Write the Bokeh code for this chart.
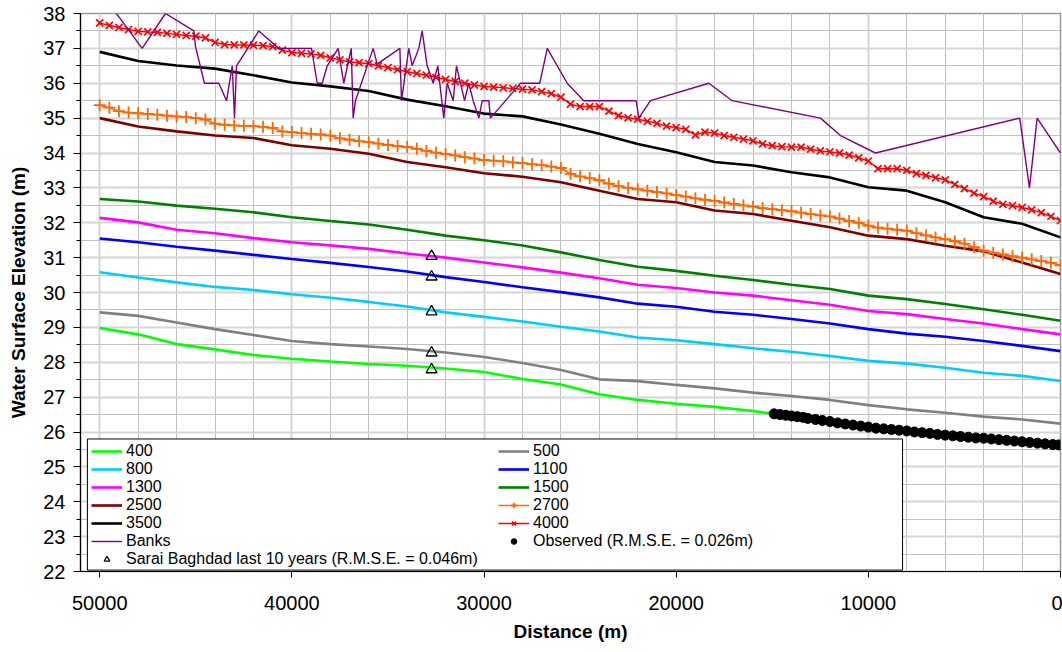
from bokeh.plotting import figure
from bokeh.models import (Range1d, SingleIntervalTicker, Legend, LegendItem,
                          BoxAnnotation, NumeralTickFormatter)
from bokeh.embed import file_html
from bokeh.resources import INLINE

# ---------------- data ----------------
dist_lines = [50000, 48000, 46000, 44000, 42000, 40000, 38000, 36000, 34000, 32000,
              30000, 28000, 26000, 24000, 22000, 20000, 18000, 16000, 14000, 12000,
              10000, 8000, 6000, 4000, 2000, 0]

q400 = [28.98, 28.80, 28.52, 28.37, 28.21, 28.10, 28.02, 27.95, 27.90, 27.82, 27.72, 27.52,
        27.36, 27.08, 26.92, 26.81, 26.72, 26.60, 26.46, 26.33, 26.15, 26.03, 25.93, 25.83,
        25.73, 25.62]
q500 = [29.43, 29.33, 29.14, 28.95, 28.78, 28.61, 28.52, 28.45, 28.38, 28.28, 28.15, 27.98,
        27.78, 27.51, 27.46, 27.35, 27.25, 27.13, 27.03, 26.92, 26.77, 26.65, 26.55, 26.44,
        26.36, 26.24]
q800 = [30.58, 30.43, 30.29, 30.16, 30.07, 29.95, 29.85, 29.73, 29.60, 29.43, 29.30, 29.17,
        29.02, 28.88, 28.71, 28.63, 28.52, 28.40, 28.30, 28.18, 28.04, 27.96, 27.84, 27.70,
        27.61, 27.46]
q1100 = [31.55, 31.44, 31.31, 31.20, 31.08, 30.96, 30.85, 30.73, 30.60, 30.44, 30.30, 30.15,
         30.01, 29.86, 29.68, 29.59, 29.45, 29.36, 29.24, 29.11, 28.95, 28.82, 28.73, 28.61,
         28.47, 28.32]
q1300 = [32.14, 32.01, 31.80, 31.70, 31.56, 31.44, 31.35, 31.25, 31.12, 31.00, 30.86, 30.72,
         30.57, 30.41, 30.22, 30.13, 30.00, 29.91, 29.78, 29.65, 29.47, 29.38, 29.24, 29.11,
         28.95, 28.80]
q1500 = [32.68, 32.61, 32.49, 32.40, 32.30, 32.16, 32.05, 31.95, 31.80, 31.63, 31.50, 31.35,
         31.15, 30.93, 30.74, 30.62, 30.48, 30.36, 30.22, 30.10, 29.91, 29.81, 29.67, 29.52,
         29.36, 29.19]
q2500 = [35.00, 34.76, 34.62, 34.50, 34.43, 34.22, 34.12, 33.98, 33.74, 33.59, 33.42, 33.32,
         33.16, 32.92, 32.68, 32.59, 32.35, 32.25, 32.06, 31.87, 31.63, 31.53, 31.34, 31.18,
         30.86, 30.53]
q3500 = [36.90, 36.64, 36.51, 36.42, 36.23, 36.02, 35.91, 35.78, 35.53, 35.34, 35.13, 35.05,
         34.82, 34.55, 34.26, 34.02, 33.74, 33.64, 33.45, 33.30, 33.02, 32.92, 32.59, 32.16,
         31.97, 31.58]

dist_marks = [50000, 49500, 49000, 48500, 48000, 47500, 47000, 46500, 46000, 45500,
              45000, 44500, 44000, 43500, 43000, 42500, 42000, 41500, 41000, 40500,
              40000, 39500, 39000, 38500, 38000, 37500, 37000, 36500, 36000, 35500,
              35000, 34500, 34000, 33500, 33000, 32500, 32000, 31500, 31000, 30500,
              30000, 29500, 29000, 28500, 28000, 27500, 27000, 26500, 26000, 25500,
              25000, 24500, 24000, 23500, 23000, 22500, 22000, 21500, 21000, 20500,
              20000, 19500, 19000, 18500, 18000, 17500, 17000, 16500, 16000, 15500,
              15000, 14500, 14000, 13500, 13000, 12500, 12000, 11500, 11000, 10500,
              10000, 9500, 9000, 8500, 8000, 7500, 7000, 6500, 6000, 5500,
              5000, 4500, 4000, 3500, 3000, 2500, 2000, 1500, 1000, 500, 0]
q2700 = [35.37, 35.30, 35.20, 35.16, 35.14, 35.12, 35.10, 35.07, 35.05, 35.03,
         35.00, 34.96, 34.84, 34.81, 34.79, 34.78, 34.77, 34.75, 34.72, 34.62,
         34.60, 34.57, 34.55, 34.53, 34.50, 34.42, 34.38, 34.34, 34.31, 34.27,
         34.23, 34.20, 34.17, 34.12, 34.06, 34.01, 33.97, 33.93, 33.88, 33.84,
         33.80, 33.78, 33.76, 33.73, 33.71, 33.68, 33.65, 33.61, 33.57, 33.40,
         33.33, 33.28, 33.22, 33.12, 33.05, 33.00, 32.96, 32.92, 32.88, 32.84,
         32.79, 32.75, 32.70, 32.66, 32.63, 32.58, 32.54, 32.50, 32.46, 32.42,
         32.39, 32.36, 32.33, 32.29, 32.25, 32.21, 32.18, 32.12, 32.05, 32.00,
         31.92, 31.86, 31.83, 31.80, 31.77, 31.70, 31.64, 31.58, 31.53, 31.47,
         31.40, 31.30, 31.20, 31.14, 31.09, 31.04, 31.00, 30.95, 30.90, 30.85, 30.78]
q4000 = [37.73, 37.66, 37.60, 37.54, 37.49, 37.47, 37.46, 37.43, 37.40, 37.37,
         37.35, 37.30, 37.17, 37.11, 37.10, 37.10, 37.09, 37.08, 37.05, 36.95,
         36.88, 36.86, 36.84, 36.80, 36.73, 36.67, 36.61, 36.59, 36.56, 36.50,
         36.45, 36.39, 36.33, 36.28, 36.23, 36.17, 36.11, 36.05, 36.00, 35.95,
         35.91, 35.89, 35.87, 35.85, 35.83, 35.81, 35.76, 35.70, 35.60, 35.40,
         35.33, 35.33, 35.33, 35.20, 35.07, 35.01, 34.97, 34.91, 34.85, 34.77,
         34.73, 34.68, 34.52, 34.60, 34.57, 34.50, 34.45, 34.40, 34.35, 34.26,
         34.21, 34.18, 34.17, 34.17, 34.11, 34.06, 34.03, 34.00, 33.94, 33.86,
         33.77, 33.55, 33.55, 33.55, 33.50, 33.41, 33.36, 33.29, 33.23, 33.10,
         32.98, 32.85, 32.75, 32.62, 32.53, 32.49, 32.44, 32.37, 32.29, 32.18, 32.06]

bank_d = [50000, 47790, 46580, 45100, 45015, 44550, 43800, 43400, 43105, 42985,
          42880, 41720, 40680, 38980, 38680, 38420, 38160, 37590, 37300, 36910,
          36810, 36690, 35770, 35560, 34380, 34295, 33915, 33740, 33395, 33220,
          32960, 32645, 32405, 32095, 31915, 31605, 31435, 31015, 30795, 30565,
          30270, 30095, 29750, 29665, 28100, 27100, 26710, 25670, 24810, 22080,
          21945, 21340, 18300, 17085, 12490, 11450, 9630, 2120, 1615, 1215, 0]
bank_v = [38.65, 37.00, 38.00, 37.50, 37.05, 36.00, 36.00, 35.50, 36.50, 35.00,
          36.50, 37.50, 37.00, 37.00, 36.00, 36.00, 36.50, 37.00, 36.00, 37.00,
          35.00, 35.50, 37.00, 36.55, 37.00, 35.50, 37.00, 36.50, 37.00, 37.50,
          36.50, 36.00, 36.50, 35.00, 36.00, 35.50, 36.50, 35.50, 36.00, 35.50,
          35.00, 35.50, 35.50, 35.00, 36.00, 36.00, 37.00, 36.00, 35.50, 35.50,
          35.00, 35.50, 36.00, 35.50, 35.00, 34.50, 34.00, 35.00, 33.00, 35.00, 34.00]

obs_d = [14900, 14600, 14300, 14000, 13700, 13400, 13150, 12750, 12400, 12000,
         11600, 11200, 10800, 10400, 10000, 9600, 9200, 8800, 8400, 8000,
         7600, 7200, 6800, 6400, 6000, 5600, 5200, 4800, 4400, 4000,
         3600, 3200, 2800, 2400, 2000, 1600, 1200, 800, 400, 100]
obs_v = [26.52, 26.50, 26.48, 26.46, 26.44, 26.42, 26.39, 26.36, 26.33, 26.30,
         26.26, 26.23, 26.20, 26.17, 26.14, 26.11, 26.09, 26.07, 26.05, 26.03,
         26.00, 25.98, 25.96, 25.93, 25.91, 25.89, 25.87, 25.85, 25.83, 25.82,
         25.80, 25.78, 25.76, 25.74, 25.72, 25.70, 25.68, 25.66, 25.64, 25.63]

sarai_d = [32730, 32730, 32730, 32730, 32730]
sarai_v = [31.04, 30.45, 29.45, 28.27, 27.79]

# ---------------- figure ----------------
FONT = "Liberation Sans"
p = figure(width=1062, height=652, output_backend="svg", toolbar_location=None,
           x_range=Range1d(51000, 0), y_range=Range1d(22, 38),
           min_border_left=80, min_border_right=2, min_border_top=13, min_border_bottom=81)
p.background_fill_color = "white"
p.border_fill_color = "white"
p.outline_line_color = "#9a9a9a"
p.outline_line_width = 1.5

p.xaxis.ticker = SingleIntervalTicker(interval=10000, num_minor_ticks=5)
p.yaxis.ticker = SingleIntervalTicker(interval=1, num_minor_ticks=2)
p.xaxis.formatter = NumeralTickFormatter(format="0")

for ax in (p.xaxis, p.yaxis):
    ax.axis_line_color = "black"
    ax.axis_line_width = 1.2
    ax.major_tick_line_color = "black"
    ax.minor_tick_line_color = "black"
    ax.major_label_text_font = FONT
    ax.major_label_text_font_size = "20px"
    ax.major_label_text_color = "black"
    ax.axis_label_text_font = FONT
    ax.axis_label_text_font_size = "19px"
    ax.axis_label_text_font_style = "bold"
    ax.axis_label_text_color = "black"
    ax.major_tick_in = 0

p.xaxis.axis_label = "Distance (m)"
p.xaxis.major_tick_out = 6
p.xaxis.minor_tick_out = 0
p.xaxis.minor_tick_in = 0
p.xaxis.major_label_standoff = 18
p.xaxis.axis_label_standoff = 8

p.yaxis.axis_label = "Water Surface Elevation (m)"
p.yaxis.major_tick_out = 7
p.yaxis.minor_tick_out = 4
p.yaxis.minor_tick_in = 0
p.yaxis.major_label_standoff = 8
p.yaxis.axis_label_standoff = 11

for g in (p.xgrid, p.ygrid):
    g.grid_line_color = "#d6d6d6"
    g.grid_line_width = 2
    g.minor_grid_line_color = "#c0c0c0"
    g.minor_grid_line_width = 1

LW = 2.6
r400 = p.line(dist_lines, q400, line_color="#00ff00", line_width=LW)
r500 = p.line(dist_lines, q500, line_color="#808080", line_width=LW)
r800 = p.line(dist_lines, q800, line_color="#00ccff", line_width=LW)
r1100 = p.line(dist_lines, q1100, line_color="#0000ff", line_width=LW)
r1300 = p.line(dist_lines, q1300, line_color="#ff00ff", line_width=LW)
r1500 = p.line(dist_lines, q1500, line_color="#008000", line_width=LW)
r2500 = p.line(dist_lines, q2500, line_color="#800000", line_width=LW)
r2700l = p.line(dist_marks, q2700, line_color="#ff6600", line_width=1.5)
r2700m = p.scatter(dist_marks, q2700, marker="cross", size=12, line_color="#ff6600",
                   line_width=1.8)
r3500 = p.line(dist_lines, q3500, line_color="black", line_width=LW)
r4000l = p.line(dist_marks, q4000, line_color="#ff0000", line_width=1.5)
r4000m = p.scatter(dist_marks, q4000, marker="x", size=10, line_color="#ff0000",
                   line_width=1.7)
rbank = p.line(bank_d, bank_v, line_color="#800080", line_width=1.4)
robs = p.scatter(obs_d, obs_v, marker="circle", size=10, fill_color="black",
                 line_color="black")
rsarai = p.scatter(sarai_d, sarai_v, marker="triangle", size=11, fill_alpha=0,
                   line_color="black", line_width=1.3)

# legend frame
box = BoxAnnotation(left=50640, right=8220, top=25.8, bottom=22.04,
                    fill_color="white", fill_alpha=1.0,
                    line_color="black", line_width=1, line_alpha=1.0)
p.add_layout(box)


def make_legend(items, loc):
    lg = Legend(items=items, location=loc, orientation="vertical",
                border_line_alpha=0, background_fill_alpha=0,
                padding=0, margin=0, spacing=0,
                glyph_width=31, glyph_height=14, label_height=17,
                label_standoff=4,
                label_text_font=FONT, label_text_font_size="16px",
                label_text_color="black")
    return lg


leg1 = make_legend([
    LegendItem(label="400", renderers=[r400]),
    LegendItem(label="800", renderers=[r800]),
    LegendItem(label="1300", renderers=[r1300]),
    LegendItem(label="2500", renderers=[r2500]),
    LegendItem(label="3500", renderers=[r3500]),
    LegendItem(label="Banks", renderers=[rbank]),
    LegendItem(label="Sarai Baghdad last 10 years (R.M.S.E. = 0.046m)", renderers=[rsarai]),
], (11, 3))
leg2 = make_legend([
    LegendItem(label="500", renderers=[r500]),
    LegendItem(label="1100", renderers=[r1100]),
    LegendItem(label="1500", renderers=[r1500]),
    LegendItem(label="2700", renderers=[r2700l, r2700m]),
    LegendItem(label="4000", renderers=[r4000l, r4000m]),
    LegendItem(label="Observed (R.M.S.E. = 0.026m)", renderers=[robs]),
], (418, 21))
p.add_layout(leg1)
p.add_layout(leg2)

open("out.html", "w").write(file_html(p, INLINE))
